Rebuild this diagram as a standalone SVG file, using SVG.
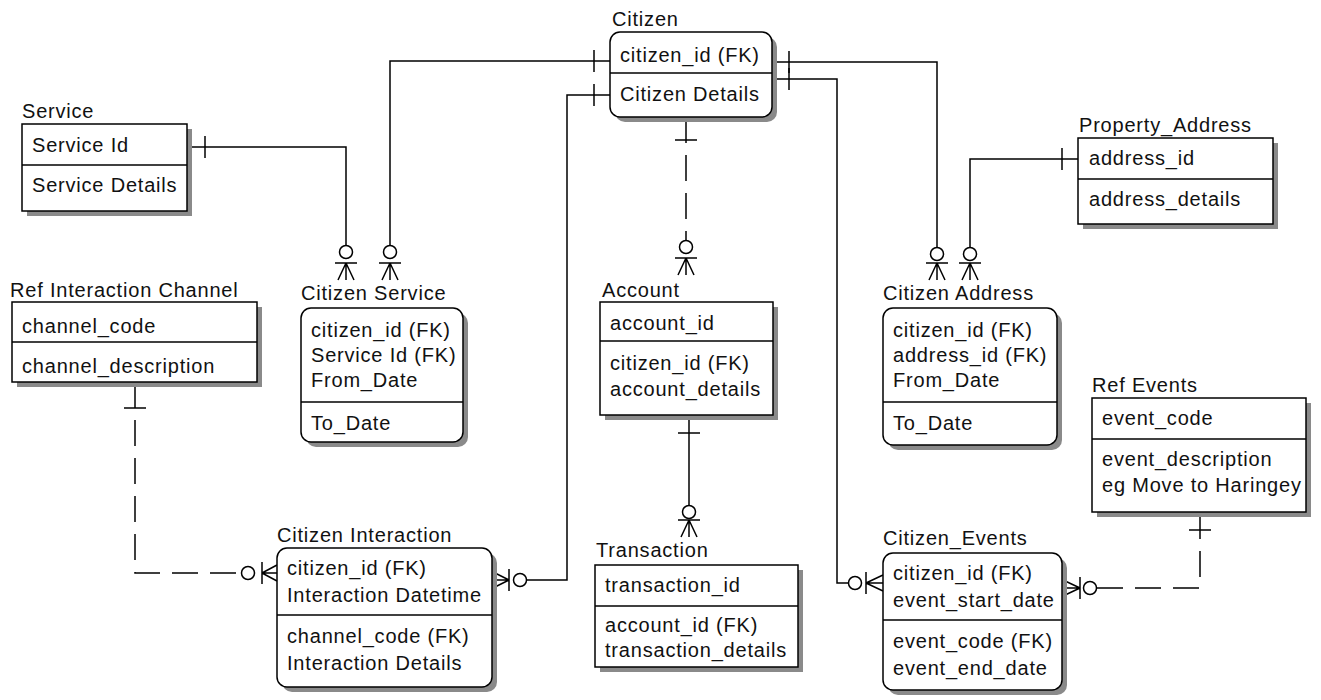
<svg xmlns="http://www.w3.org/2000/svg" width="1321" height="700" viewBox="0 0 1321 700">
<style>
.bg{fill:#fff}
.box{fill:#fff;stroke:#000;stroke-width:1.5}
.shadow{fill:#8a8a8a}
.t{font-family:"Liberation Sans",Arial,sans-serif;font-size:20px;letter-spacing:0.8px;fill:#111}
.ln{fill:none;stroke:#000;stroke-width:1.5}
.dash{stroke-dasharray:26 12}
.circ{fill:#fff;stroke:#000;stroke-width:1.5}
</style>
<rect class="bg" x="0" y="0" width="1321" height="700"/>

<g id="connectors">
  <!-- Citizen -> Citizen Service -->
  <path class="ln" d="M610,61 H390 V245.5"/>
  <path class="ln" d="M594,50 V72"/>
  <circle class="circ" cx="390" cy="252" r="6.5"/>
  <path class="ln" d="M379,263 H401 M390,263 L382,280 M390,263 V280 M390,263 L398,280"/>
  <!-- Service -> Citizen Service -->
  <path class="ln" d="M187,147 H346 V245.5"/>
  <path class="ln" d="M205,136 V158"/>
  <circle class="circ" cx="346" cy="252" r="6.5"/>
  <path class="ln" d="M335,263 H357 M346,263 L338,280 M346,263 V280 M346,263 L354,280"/>
  <!-- Citizen -> Citizen Interaction -->
  <path class="ln" d="M610,95 H567 V580 H526.5"/>
  <path class="ln" d="M594,84 V106"/>
  <circle class="circ" cx="520" cy="580" r="6.5"/>
  <path class="ln" d="M509,569 V591 M509,580 L493,572 M509,580 H493 M509,580 L493,588"/>
  <!-- Citizen -> Account -->
  <path class="ln dash" d="M686,117 V240.5"/>
  <path class="ln" d="M675,140 H697"/>
  <circle class="circ" cx="686" cy="247" r="6.5"/>
  <path class="ln" d="M675,258 H697 M686,258 L678,275 M686,258 V275 M686,258 L694,275"/>
  <!-- Account -> Transaction -->
  <path class="ln" d="M689,415 V505.5"/>
  <path class="ln" d="M678,433 H700"/>
  <circle class="circ" cx="689" cy="512" r="6.5"/>
  <path class="ln" d="M678,520 H700 M689,520 L681,537 M689,520 V537 M689,520 L697,537"/>
  <!-- Citizen -> Citizen Address -->
  <path class="ln" d="M772,62 H937 V247.5"/>
  <path class="ln" d="M789,51 V73"/>
  <circle class="circ" cx="937" cy="254" r="6.5"/>
  <path class="ln" d="M926,263 H948 M937,263 L929,280 M937,263 V280 M937,263 L945,280"/>
  <!-- Property_Address -> Citizen Address -->
  <path class="ln" d="M1078,159 H970 V247.5"/>
  <path class="ln" d="M1062,148 V170"/>
  <circle class="circ" cx="970" cy="254" r="6.5"/>
  <path class="ln" d="M959,263 H981 M970,263 L962,280 M970,263 V280 M970,263 L978,280"/>
  <!-- Citizen -> Citizen_Events -->
  <path class="ln" d="M772,79 H837 V583 H848.5"/>
  <path class="ln" d="M789,68 V90"/>
  <circle class="circ" cx="855" cy="583" r="6.5"/>
  <path class="ln" d="M866,572 V594 M866,583 L883,575 M866,583 H883 M866,583 L883,591"/>
  <!-- Ref Interaction Channel -> Citizen Interaction -->
  <path class="ln dash" d="M135,382 V573 H241.5"/>
  <path class="ln" d="M124,408 H146"/>
  <circle class="circ" cx="248" cy="573" r="6.5"/>
  <path class="ln" d="M262,562 V584 M262,573 L277,565 M262,573 H277 M262,573 L277,581"/>
  <!-- Ref Events -> Citizen_Events -->
  <path class="ln dash" d="M1200,513 V588 H1096.5"/>
  <path class="ln" d="M1189,530 H1211"/>
  <circle class="circ" cx="1090" cy="588" r="6.5"/>
  <path class="ln" d="M1080,577 V599 M1080,588 L1063,580 M1080,588 H1063 M1080,588 L1063,596"/>
</g>

<g id="service">
  <rect class="shadow" x="27" y="129" width="165" height="87"/>
  <rect class="box" x="22" y="124" width="165" height="87"/>
  <line class="ln" x1="22" y1="165" x2="187" y2="165"/>
  <text class="t" x="22" y="118">Service</text>
  <text class="t" x="32" y="152">Service Id</text>
  <text class="t" x="32" y="192">Service Details</text>
</g>

<g id="citizen">
  <rect class="shadow" x="615" y="37" width="162" height="85" rx="10"/>
  <rect class="box" x="610" y="32" width="162" height="85" rx="10"/>
  <line class="ln" x1="610" y1="73" x2="772" y2="73"/>
  <text class="t" x="612" y="26">Citizen</text>
  <text class="t" x="620" y="62">citizen_id (FK)</text>
  <text class="t" x="620" y="101">Citizen Details</text>
</g>

<g id="property_address">
  <rect class="shadow" x="1083" y="143" width="195" height="86"/>
  <rect class="box" x="1078" y="138" width="195" height="86"/>
  <line class="ln" x1="1078" y1="179" x2="1273" y2="179"/>
  <text class="t" x="1079" y="132">Property_Address</text>
  <text class="t" x="1089" y="165">address_id</text>
  <text class="t" x="1089" y="206">address_details</text>
</g>

<g id="citizen_service">
  <rect class="shadow" x="306" y="313" width="162" height="134" rx="10"/>
  <rect class="box" x="301" y="308" width="162" height="134" rx="10"/>
  <line class="ln" x1="301" y1="402" x2="463" y2="402"/>
  <text class="t" x="301" y="300">Citizen Service</text>
  <text class="t" x="311" y="337">citizen_id (FK)</text>
  <text class="t" x="311" y="362">Service Id (FK)</text>
  <text class="t" x="311" y="387">From_Date</text>
  <text class="t" x="311" y="430">To_Date</text>
</g>

<g id="account">
  <rect class="shadow" x="605" y="307" width="173" height="113"/>
  <rect class="box" x="600" y="302" width="173" height="113"/>
  <line class="ln" x1="600" y1="341" x2="773" y2="341"/>
  <text class="t" x="602" y="297">Account</text>
  <text class="t" x="610" y="330">account_id</text>
  <text class="t" x="610" y="370">citizen_id (FK)</text>
  <text class="t" x="610" y="396">account_details</text>
</g>

<g id="citizen_address">
  <rect class="shadow" x="888" y="313" width="174" height="137" rx="10"/>
  <rect class="box" x="883" y="308" width="174" height="137" rx="10"/>
  <line class="ln" x1="883" y1="402" x2="1057" y2="402"/>
  <text class="t" x="883" y="300">Citizen Address</text>
  <text class="t" x="893" y="337">citizen_id (FK)</text>
  <text class="t" x="893" y="362">address_id (FK)</text>
  <text class="t" x="893" y="387">From_Date</text>
  <text class="t" x="893" y="430">To_Date</text>
</g>

<g id="ref_interaction_channel">
  <rect class="shadow" x="17" y="307" width="245" height="80"/>
  <rect class="box" x="12" y="302" width="245" height="80"/>
  <line class="ln" x1="12" y1="342" x2="257" y2="342"/>
  <text class="t" x="10" y="297">Ref Interaction Channel</text>
  <text class="t" x="22" y="333">channel_code</text>
  <text class="t" x="22" y="373">channel_description</text>
</g>

<g id="citizen_interaction">
  <rect class="shadow" x="282" y="553" width="215" height="139" rx="10"/>
  <rect class="box" x="277" y="548" width="215" height="139" rx="10"/>
  <line class="ln" x1="277" y1="615" x2="492" y2="615"/>
  <text class="t" x="277" y="542">Citizen Interaction</text>
  <text class="t" x="287" y="575">citizen_id (FK)</text>
  <text class="t" x="287" y="602">Interaction Datetime</text>
  <text class="t" x="287" y="643">channel_code (FK)</text>
  <text class="t" x="287" y="670">Interaction Details</text>
</g>

<g id="transaction">
  <rect class="shadow" x="600" y="570" width="203" height="102"/>
  <rect class="box" x="595" y="565" width="203" height="102"/>
  <line class="ln" x1="595" y1="606" x2="798" y2="606"/>
  <text class="t" x="596" y="557">Transaction</text>
  <text class="t" x="605" y="592">transaction_id</text>
  <text class="t" x="605" y="632">account_id (FK)</text>
  <text class="t" x="605" y="657">transaction_details</text>
</g>

<g id="citizen_events">
  <rect class="shadow" x="888" y="558" width="179" height="137" rx="10"/>
  <rect class="box" x="883" y="553" width="179" height="137" rx="10"/>
  <line class="ln" x1="883" y1="620" x2="1062" y2="620"/>
  <text class="t" x="883" y="545">Citizen_Events</text>
  <text class="t" x="893" y="580">citizen_id (FK)</text>
  <text class="t" x="893" y="607">event_start_date</text>
  <text class="t" x="893" y="648">event_code (FK)</text>
  <text class="t" x="893" y="675">event_end_date</text>
</g>

<g id="ref_events">
  <rect class="shadow" x="1097" y="403" width="214" height="114"/>
  <rect class="box" x="1092" y="398" width="214" height="114"/>
  <line class="ln" x1="1092" y1="439" x2="1306" y2="439"/>
  <text class="t" x="1092" y="392">Ref Events</text>
  <text class="t" x="1102" y="425">event_code</text>
  <text class="t" x="1102" y="466">event_description</text>
  <text class="t" x="1102" y="492">eg Move to Haringey</text>
</g>
</svg>
